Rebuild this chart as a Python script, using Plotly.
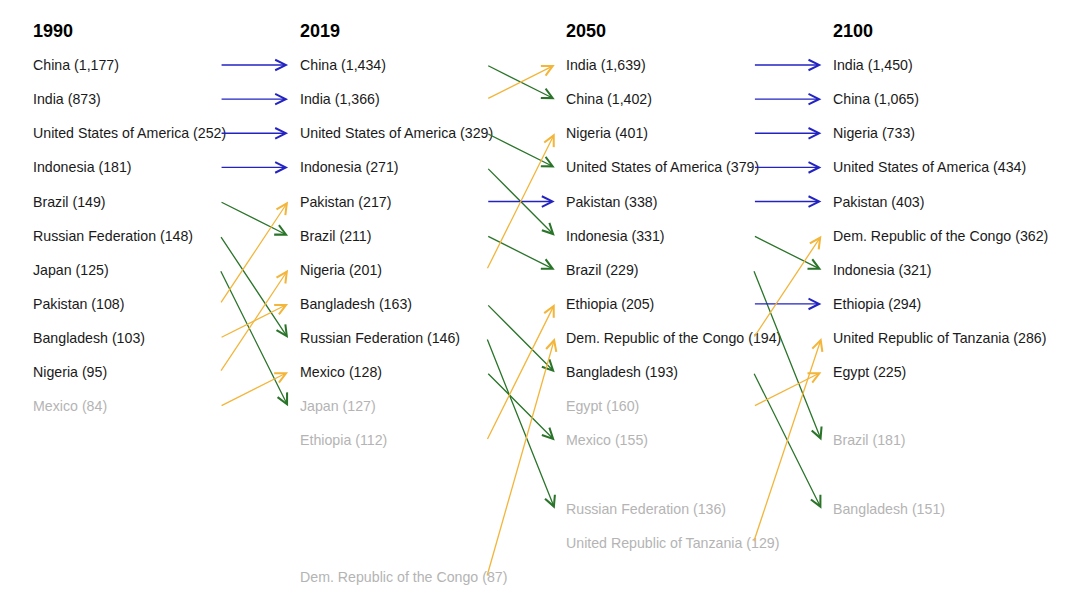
import plotly.graph_objects as go

years = ["1990", "2019", "2050", "2100"]

countries_1990 = ["China", "India", "United States of America", "Indonesia", "Brazil",
                  "Russian Federation", "Japan", "Pakistan", "Bangladesh", "Nigeria", "Mexico"]
pop_1990 = [1177, 873, 252, 181, 149, 148, 125, 108, 103, 95, 84]
rank_1990 = [1, 2, 3, 4, 5, 6, 7, 8, 9, 10, 11]

countries_2019 = ["China", "India", "United States of America", "Indonesia", "Pakistan", "Brazil",
                  "Nigeria", "Bangladesh", "Russian Federation", "Mexico", "Japan", "Ethiopia",
                  "Dem. Republic of the Congo"]
pop_2019 = [1434, 1366, 329, 271, 217, 211, 201, 163, 146, 128, 127, 112, 87]
rank_2019 = [1, 2, 3, 4, 5, 6, 7, 8, 9, 10, 11, 12, 16]

countries_2050 = ["India", "China", "Nigeria", "United States of America", "Pakistan", "Indonesia",
                  "Brazil", "Ethiopia", "Dem. Republic of the Congo", "Bangladesh", "Egypt", "Mexico",
                  "Russian Federation", "United Republic of Tanzania"]
pop_2050 = [1639, 1402, 401, 379, 338, 331, 229, 205, 194, 193, 160, 155, 136, 129]
rank_2050 = [1, 2, 3, 4, 5, 6, 7, 8, 9, 10, 11, 12, 14, 15]

countries_2100 = ["India", "China", "Nigeria", "United States of America", "Pakistan",
                  "Dem. Republic of the Congo", "Indonesia", "Ethiopia", "United Republic of Tanzania",
                  "Egypt", "Brazil", "Bangladesh"]
pop_2100 = [1450, 1065, 733, 434, 403, 362, 321, 294, 286, 225, 181, 151]
rank_2100 = [1, 2, 3, 4, 5, 6, 7, 8, 9, 10, 12, 14]

columns = [
    (countries_1990, pop_1990, rank_1990),
    (countries_2019, pop_2019, rank_2019),
    (countries_2050, pop_2050, rank_2050),
    (countries_2100, pop_2100, rank_2100),
]

TOP_N = 10
DARK = "#1a1a1a"
GREY = "#b4b4b4"
BLUE = "#2323c2"
GREEN = "#2a742a"
ORANGE = "#f3b53a"
FONT = "Liberation Sans, Arial, sans-serif"

ARROW_START = 0.709   # fraction of column spacing
ARROW_END = 0.964

fig = go.Figure()
annotations = []

for ci, (names, pops, ranks) in enumerate(columns):
    annotations.append(dict(
        x=ci, y=0, xref="x", yref="y", text="<b>%s</b>" % years[ci], showarrow=False,
        xanchor="left", yanchor="middle", font=dict(family=FONT, size=18, color="#000000")))
    for name, p, r in zip(names, pops, ranks):
        annotations.append(dict(
            x=ci, y=r, xref="x", yref="y", text="%s (%s)" % (name, format(p, ",")),
            showarrow=False, xanchor="left", yanchor="middle",
            font=dict(family=FONT, size=14.2, color=DARK if r <= TOP_N else GREY)))

for ci in range(len(columns) - 1):
    names_a, _, ranks_a = columns[ci]
    names_b, _, ranks_b = columns[ci + 1]
    rank_b = dict(zip(names_b, ranks_b))
    for name, ra in zip(names_a, ranks_a):
        if name not in rank_b:
            continue
        rb = rank_b[name]
        color = BLUE if rb == ra else (ORANGE if rb < ra else GREEN)
        annotations.append(dict(
            x=ci + ARROW_END, y=rb, ax=ci + ARROW_START, ay=ra,
            xref="x", yref="y", axref="x", ayref="y", text="",
            showarrow=True, arrowhead=5, arrowsize=1.6, arrowwidth=1.3,
            arrowcolor=color, standoff=0))

fig.update_layout(
    width=1080, height=598,
    margin=dict(l=0, r=0, t=0, b=0),
    paper_bgcolor="white", plot_bgcolor="white",
    xaxis=dict(range=[-0.08625, 3.9637], visible=False, fixedrange=True),
    yaxis=dict(range=[16.851, -0.670], visible=False, fixedrange=True),
    annotations=annotations,
    showlegend=False,
)

fig.write_html("out.html")
